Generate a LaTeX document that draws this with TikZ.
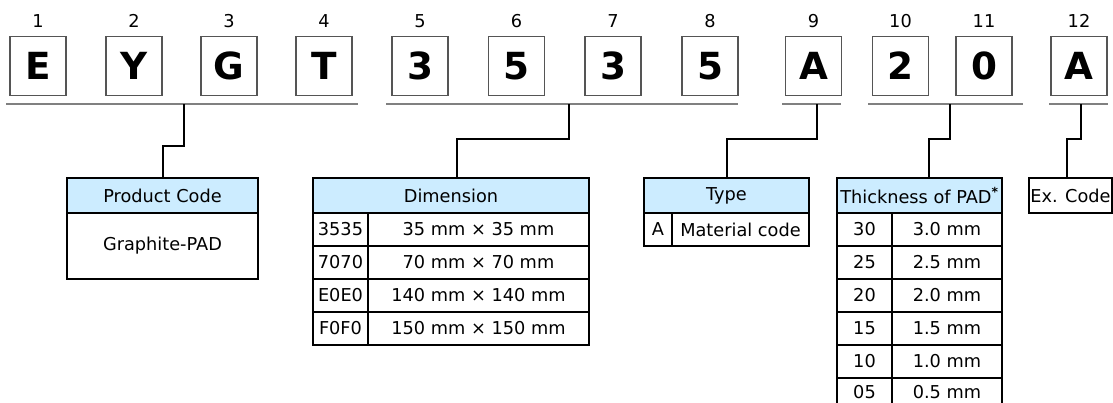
\documentclass[tikz,border=0pt]{standalone}
\usepackage{fontspec}
\setmainfont{DejaVu Sans}
\usetikzlibrary{calc}
\definecolor{headblue}{RGB}{204,236,255}
\definecolor{linegray}{RGB}{128,128,128}
\definecolor{boxgray}{RGB}{85,85,85}
\def\u{0.75pt}
\newcommand\tabfont{\fontsize{13.3}{16}\selectfont}
\tikzset{
  codebox/.style={draw=boxgray,line width=0.8pt,minimum width=56*\u,minimum height=59*\u,inner sep=0pt,font=\fontsize{28}{30}\selectfont\bfseries},
  numlabel/.style={anchor=base,inner sep=0pt,font=\tabfont},
  uline/.style={draw=linegray,line width=1.3pt},
  conn/.style={draw=black,line width=1.5pt},
  head/.style={draw,line width=0.8pt,fill=headblue,inner sep=0pt,outer sep=0pt,minimum height=35*\u,anchor=north west,font=\tabfont},
  cell/.style={draw,line width=0.8pt,inner sep=0pt,outer sep=0pt,minimum height=33*\u,anchor=north west,font=\tabfont}
}
\begin{document}
\begin{tikzpicture}[x=0.75pt,y=-0.75pt]
  \useasboundingbox (0,0) rectangle (1113,403);
  \clip (0,0) rectangle (1113,403);
  % code letters and their positions
  \path (38,66)node[codebox](c1){E} (134,66)node[codebox](c2){Y}
    (229,66)node[codebox](c3){G} (324,66)node[codebox](c4){T}
    (420,66)node[codebox](c5){3} (516.5,66)node[codebox](c6){5}
    (613,66)node[codebox](c7){3} (710,66)node[codebox](c8){5}
    (813.5,66)node[codebox](c9){A} (900.5,66)node[codebox](c10){2}
    (984,66)node[codebox](c11){0} (1079,66)node[codebox](c12){A};
  \path (c1|-0,28)node[numlabel](n1){1} (c2|-0,28)node[numlabel](n2){2}
    (c3|-0,28)node[numlabel](n3){3} (c4|-0,28)node[numlabel](n4){4}
    (c5|-0,28)node[numlabel](n5){5} (c6|-0,28)node[numlabel](n6){6}
    (c7|-0,28)node[numlabel](n7){7} (c8|-0,28)node[numlabel](n8){8}
    (c9|-0,28)node[numlabel](n9){9} (c10|-0,28)node[numlabel](n10){10}
    (c11|-0,28)node[numlabel](n11){11} (c12|-0,28)node[numlabel](n12){12};
  % groups
  \draw[uline] (6,104)--(358,104) (386,104)--(738,104) (782,104)--(841,104)
    (868,104)--(1023,104) (1049,104)--(1108,104);
  \coordinate (j1) at (184,104);
  \coordinate (j2) at (569,104);
  \coordinate (j3) at (817,104);
  \coordinate (j4) at (950,104);
  \coordinate (j5) at (1081,104);
  % tables
  \node[head,minimum width=191*\u] (prod) at (67,178) {Product Code};
  \node[cell,minimum width=191*\u,minimum height=66*\u] (prodbody) at (67,213) {Graphite-PAD};
  \node[head,minimum width=276*\u] (dim) at (313,178) {Dimension};
  \path (313,213)node[cell,minimum width=55*\u](d1){3535} (368,213)node[cell,minimum width=221*\u](dd1){35 mm × 35 mm}
    (313,246)node[cell,minimum width=55*\u](d2){7070} (368,246)node[cell,minimum width=221*\u](dd2){70 mm × 70 mm}
    (313,279)node[cell,minimum width=55*\u](d3){E0E0} (368,279)node[cell,minimum width=221*\u](dd3){140 mm × 140 mm}
    (313,312)node[cell,minimum width=55*\u](d4){F0F0} (368,312)node[cell,minimum width=221*\u](dd4){150 mm × 150 mm};
  \node[head,minimum width=165*\u] (typ) at (644,178) {Type};
  \path (644,213)node[cell,minimum width=28*\u](t1){A} (672,213)node[cell,minimum width=137*\u](tt1){Material code};
  \node[head,minimum width=165*\u] (thk) at (837,178) {Thickness of PAD\textsuperscript{\textbf{*}}};
  \path (837,213)node[cell,minimum width=55*\u](k1){30} (892,213)node[cell,minimum width=110*\u](kk1){3.0 mm}
    (837,246)node[cell,minimum width=55*\u](k2){25} (892,246)node[cell,minimum width=110*\u](kk2){2.5 mm}
    (837,279)node[cell,minimum width=55*\u](k3){20} (892,279)node[cell,minimum width=110*\u](kk3){2.0 mm}
    (837,312)node[cell,minimum width=55*\u](k4){15} (892,312)node[cell,minimum width=110*\u](kk4){1.5 mm}
    (837,345)node[cell,minimum width=55*\u](k5){10} (892,345)node[cell,minimum width=110*\u](kk5){1.0 mm}
    (837,378)node[cell,minimum width=55*\u,minimum height=28*\u](k6){05} (892,378)node[cell,minimum width=110*\u,minimum height=28*\u](kk6){0.5 mm};
  \node[head,fill=white,minimum width=83*\u] (exc) at (1029,178) {Ex. Code};
  % connectors
  \draw[conn] (j1)--++(0,42)-|(prod.north);
  \draw[conn] (j2)--++(0,35)-|($(dim.north)+(6,0)$);
  \draw[conn] (j3)--++(0,35)-|(typ.north);
  \draw[conn] (j4)--++(0,35)-|($(thk.north)+(9.5,0)$);
  \draw[conn] (j5)--++(0,35)-|($(exc.north)+(-3.5,0)$);
\end{tikzpicture}
\end{document}
